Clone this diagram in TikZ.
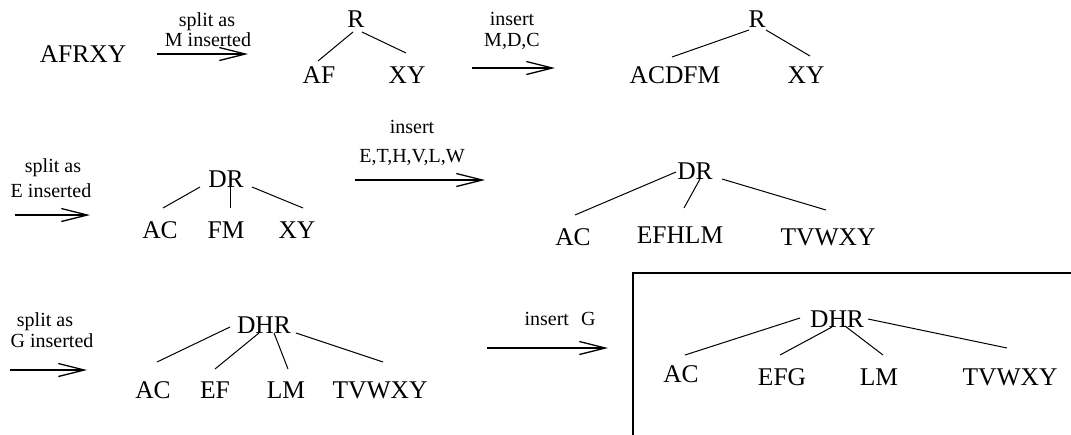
\documentclass[tikz,border=0pt]{standalone}
\usepackage{fontspec}
\setmainfont{Liberation Serif}
\usetikzlibrary{arrows.meta}
\tikzset{
  big/.style={inner sep=0pt, anchor=base, font=\fontsize{25.5}{28}\selectfont},
  small/.style={inner sep=0pt, anchor=base, font=\fontsize{20}{22}\selectfont},
  edge/.style={line width=1pt},
  step arrow/.style={line width=1.3pt, -{Straight Barb[length=26pt,width=13pt,line width=1.3pt]}},
  frame/.style={line width=1.5pt}
}
\begin{document}
\begin{tikzpicture}[x=1pt,y=-1pt]
\useasboundingbox (0,0) rectangle (1071,434);
% ---------- row 1 ----------
\node[big] (afrxy) at (83,62) {AFRXY};
\coordinate (a1s) at (157,54); \coordinate (a1e) at (248,54);
\draw[step arrow] (a1s) -- (a1e);
\node[small] (l1a) at (207,26) {split as};
\node[small] (l1b) at (208,46) {M inserted};

\node[big] (r1) at (356,27) {R};
\node[big] (af) at (319,83) {AF};
\node[big] (xy1) at (407,83) {XY};
\draw[edge] ([shift={(-3,5)}]r1.base) -- ([shift={(-1,-22)}]af.base);
\draw[edge] ([shift={(6,5)}]r1.base) -- ([shift={(-1,-30)}]xy1.base);

\coordinate (a2s) at (472,68); \coordinate (a2e) at (555,68);
\draw[step arrow] (a2s) -- (a2e);
\node[small] (l2a) at (512,25) {insert};
\node[small] (l2b) at (512,46) {M,D,C};

\node[big] (r2) at (757,27) {R};
\node[big] (acdfm) at (675,83) {ACDFM};
\node[big] (xy2) at (806,83) {XY};
\draw[edge] ([shift={(-8,3)}]r2.base) -- ([shift={(-3,-26)}]acdfm.base);
\draw[edge] ([shift={(9,3)}]r2.base) -- ([shift={(4,-27)}]xy2.base);

% ---------- row 2 ----------
\coordinate (a3s) at (15,215); \coordinate (a3e) at (90,215);
\draw[step arrow] (a3s) -- (a3e);
\node[small] (l3a) at (53,172) {split as};
\node[small] (l3b) at (51,197) {E inserted};

\node[big] (dr1) at (226,187) {DR};
\node[big] (ac1) at (160,238) {AC};
\node[big] (fm) at (226,238) {FM};
\node[big] (xy3) at (297,238) {XY};
\draw[edge] ([shift={(-26,0)}]dr1.base) -- ([shift={(3,-30)}]ac1.base);
\draw[edge] ([shift={(4,0)}]dr1.base) -- ([shift={(4,-30)}]fm.base);
\draw[edge] ([shift={(26,0)}]dr1.base) -- ([shift={(6,-30)}]xy3.base);

\coordinate (a4s) at (355,180); \coordinate (a4e) at (485,180);
\draw[step arrow] (a4s) -- (a4e);
\node[small] (l4a) at (412,133) {insert};
\node[small] (l4b) at (412,162) {E,T,H,V,L,W};

\node[big] (dr2) at (695,179) {DR};
\node[big] (ac2) at (573,245) {AC};
\node[big] (efhlm) at (680,243) {EFHLM};
\node[big] (tv1) at (828,245) {TVWXY};
\draw[edge] ([shift={(-19,-7)}]dr2.base) -- ([shift={(2,-30)}]ac2.base);
\draw[edge] ([shift={(5,0)}]dr2.base) -- ([shift={(4,-35)}]efhlm.base);
\draw[edge] ([shift={(27,0)}]dr2.base) -- ([shift={(-2,-35)}]tv1.base);

% ---------- row 3 ----------
\coordinate (a5s) at (10,370); \coordinate (a5e) at (87,370);
\draw[step arrow] (a5s) -- (a5e);
\node[small] (l5a) at (45,326) {split as};
\node[small] (l5b) at (52,347) {G inserted};

\node[big] (dhr1) at (264,333) {DHR};
\node[big] (ac3) at (153,398) {AC};
\node[big] (ef) at (215,398) {EF};
\node[big] (lm1) at (286,398) {LM};
\node[big] (tv2) at (380,398) {TVWXY};
\draw[edge] ([shift={(-34,-6)}]dhr1.base) -- ([shift={(4,-36)}]ac3.base);
\draw[edge] ([shift={(-5,0)}]dhr1.base) -- ([shift={(0,-29)}]ef.base);
\draw[edge] ([shift={(10,0)}]dhr1.base) -- ([shift={(2,-29)}]lm1.base);
\draw[edge] ([shift={(32,0)}]dhr1.base) -- ([shift={(3,-36)}]tv2.base);

\coordinate (a6s) at (487,348); \coordinate (a6e) at (608,348);
\draw[step arrow] (a6s) -- (a6e);
\node[small] (l6) at (560,325) {insert\hspace{0.6em}G};

% ---------- boxed result ----------
\begin{scope}
\clip (0,0) rectangle (1071,434);
\draw[frame] (633,273) rectangle (1090,450);
\end{scope}
\node[big] (dhr2) at (837,327) {DHR};
\node[big] (ac4) at (681,382) {AC};
\node[big] (efg) at (782,385) {EFG};
\node[big] (lm2) at (879,385) {LM};
\node[big] (tv3) at (1010,385) {TVWXY};
\draw[edge] ([shift={(-37,-9)}]dhr2.base) -- ([shift={(4,-27)}]ac4.base);
\draw[edge] ([shift={(-5,0)}]dhr2.base) -- ([shift={(-2,-30)}]efg.base);
\draw[edge] ([shift={(8,-1)}]dhr2.base) -- ([shift={(4,-30)}]lm2.base);
\draw[edge] ([shift={(31,-8)}]dhr2.base) -- ([shift={(-3,-37)}]tv3.base);
\end{tikzpicture}
\end{document}
